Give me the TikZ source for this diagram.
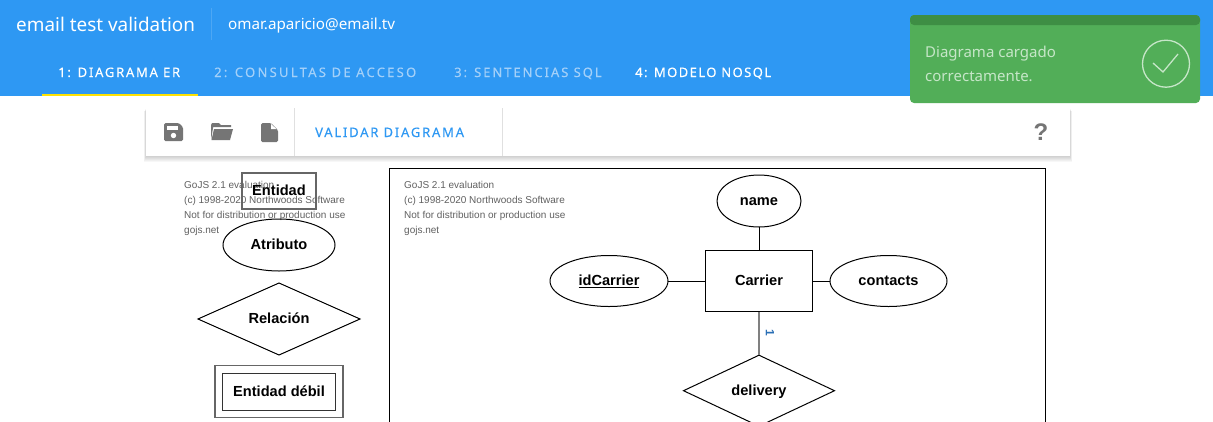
\documentclass[tikz,border=0pt]{standalone}
\usepackage{fontspec}
\setmainfont{Noto Sans}
\newfontfamily\diagfont{Liberation Sans}
\usetikzlibrary{shapes.geometric}
\definecolor{barblue}{HTML}{2E98F3}
\definecolor{tabdim}{HTML}{A3D0F9}
\definecolor{toastgreen}{HTML}{52AE58}
\definecolor{toastdark}{HTML}{3E8E44}
\definecolor{toasttext}{HTML}{C6E6C8}
\definecolor{icongray}{HTML}{757575}
\definecolor{lineblue}{HTML}{2A6FB5}
\tikzset{
  erfont/.style={font=\diagfont\bfseries\fontsize{14.6}{16}\selectfont, text height=10.5pt, text depth=1.5pt, inner sep=0pt, outer sep=0pt},
  erbox/.style={erfont, draw, rectangle, line width=1pt},
  erellipse/.style={erfont, draw, ellipse, line width=1pt},
  erdiamond/.style={erfont, draw, diamond, aspect=2.25, line width=1pt},
  tablabel/.style={font=\fontsize{13}{14}\selectfont\addfontfeatures{LetterSpace=#1,FakeBold=0.25}, anchor=base west, inner sep=0pt},
  watermark/.style={font=\diagfont\fontsize{10}{15}\selectfont, text=black!62, align=left, anchor=north west, inner sep=0pt}
}
\begin{document}
\begin{tikzpicture}[x=1pt,y=-1pt]
\useasboundingbox (0,0) rectangle (1213,421);
\clip (0,0) rectangle (1213,421);
\fill[white] (0,0) rectangle (1213,421);
% top bar
\fill[barblue] (0,0) rectangle (1213,96);
\fill[yellow!85!orange] (42,94) rectangle (198,96);
\draw[white,opacity=.15] (211.5,8) -- (211.5,40);
\draw (16,31) node (vTitle) [anchor=base west,inner sep=0pt,text=white,font=\fontsize{18.9}{20}\selectfont] {email test validation};
\draw (228,29) node (vMail) [anchor=base west,inner sep=0pt,text=white,font=\fontsize{15.2}{16}\selectfont] {omar.aparicio@email.tv};
\draw (58,77) node (vTabA) [tablabel=13.5,text=white] {1: DIAGRAMA ER};
\draw (214,77) node (vTabB) [tablabel=17.4,text=tabdim] {2: CONSULTAS DE ACCESO};
\draw (454,77) node (vTabC) [tablabel=15,text=tabdim] {3: SENTENCIAS SQL};
\draw (635,77) node (vTabD) [tablabel=11,text=white] {4: MODELO NOSQL};
% toolbar
\foreach \s in {1,...,6}
  \fill[black,opacity=.03] (146-\s/3,108+\s/2) rectangle (1070+\s/3,156+\s);
\fill[white] (146,108) rectangle (1070,156);
\draw[black!12] (294.5,108) -- (294.5,156);
\draw[black!12] (502.5,108) -- (502.5,156);
\fill[icongray,rounded corners=1.5pt] (164,123) -- (179,123) -- (183,127) -- (183,141) -- (164,141) -- cycle;
\fill[white] (167,126) rectangle (178,130);
\fill[white] (173.5,135.5) circle (2.7);
\fill[icongray] (211,140) -- (211,125) -- (212,123) -- (219,123) -- (221,125) -- (231,125) -- (231,127) -- (213,127) -- (213,128) -- cycle;
\fill[icongray] (214,129) -- (233,129) -- (230,140) -- (211.5,140) -- cycle;
\fill[icongray,rounded corners=1.5pt] (261,123) -- (271,123) -- (278,130) -- (278,142) -- (261,142) -- cycle;
\fill[white] (271,124) -- (271,129) -- (276.5,129) -- cycle;
\draw (315,137) node (vValidar) [tablabel=13.8,text=barblue] {VALIDAR DIAGRAMA};
\draw (1041,132) node (vHelp) [inner sep=0pt,text=icongray,font=\diagfont\bfseries\fontsize{24}{26}\selectfont] {?};
% toast
\fill[toastgreen,rounded corners=4pt] (910,15) rectangle (1200,103);
\fill[toastdark,rounded corners=4pt] (910,25) -- (910,15) -- (1200,15) -- (1200,25) -- cycle;
\draw (925,57) node (vToastA) [anchor=base west,inner sep=0pt,text=toasttext,font=\fontsize{15}{16}\selectfont] {Diagrama cargado};
\draw (925,81) node (vToastB) [anchor=base west,inner sep=0pt,text=toasttext,font=\fontsize{15}{16}\selectfont] {correctamente.};
\draw[toasttext,line width=1.3pt] (1166,63.7) circle (23.5);
\draw[toasttext,line width=1.3pt] (1153,63) -- (1163,72) -- (1178,54);
% palette
\draw (184,181) node (vMarkA) [watermark] {GoJS 2.1 evaluation\\(c) 1998-2020 Northwoods Software\\Not for distribution or production use\\gojs.net};
\draw (279,191) node (vEntidad) [erbox,draw=black!60,line width=1.2pt,minimum width=74pt,minimum height=36pt] {Entidad};
\draw (279,245) node (vAtributo) [erellipse,minimum width=112pt,minimum height=52pt] {Atributo};
\draw (279,319) node (vRelacion) [erdiamond,minimum width=162pt,minimum height=72pt] {Relación};
\draw (279,391.5) node (vDebilOut) [draw=black!60,line width=1.2pt,rectangle,inner sep=0pt,minimum width=128pt,minimum height=52pt] {};
\draw (279,391.5) node (vDebil) [erbox,draw=black!80,minimum width=113pt,minimum height=37pt] {Entidad débil};
% canvas
\draw[line width=1pt] (389.5,168.5) rectangle (1045.5,440);
\draw (404,181) node (vMarkB) [watermark] {GoJS 2.1 evaluation\\(c) 1998-2020 Northwoods Software\\Not for distribution or production use\\gojs.net};
\draw (759,201) node (vName) [erellipse,minimum width=84pt,minimum height=52pt] {name};
\draw (759,281) node (vCarrier) [erbox,minimum width=107pt,minimum height=61pt] {Carrier};
\draw (609,281) node (vId) [erellipse,minimum width=118pt,minimum height=51pt] {\underline{idCarrier}};
\draw (888.5,281) node (vContacts) [erellipse,minimum width=117pt,minimum height=51pt] {contacts};
\draw (759,390.7) node (vDelivery) [erdiamond,minimum width=151pt,minimum height=71pt] {delivery};
\draw (770,333) node (vOne) [inner sep=0pt,rotate=-90,text=lineblue,font=\diagfont\bfseries\fontsize{12}{12}\selectfont] {1};
\draw[line width=.8pt] (vName) -- (vCarrier);
\draw[line width=.8pt] (vId) -- (vCarrier);
\draw[line width=.8pt] (vCarrier) -- (vContacts);
\draw[line width=1.5pt,black!50] (vCarrier) -- (vDelivery);
\end{tikzpicture}
\end{document}
